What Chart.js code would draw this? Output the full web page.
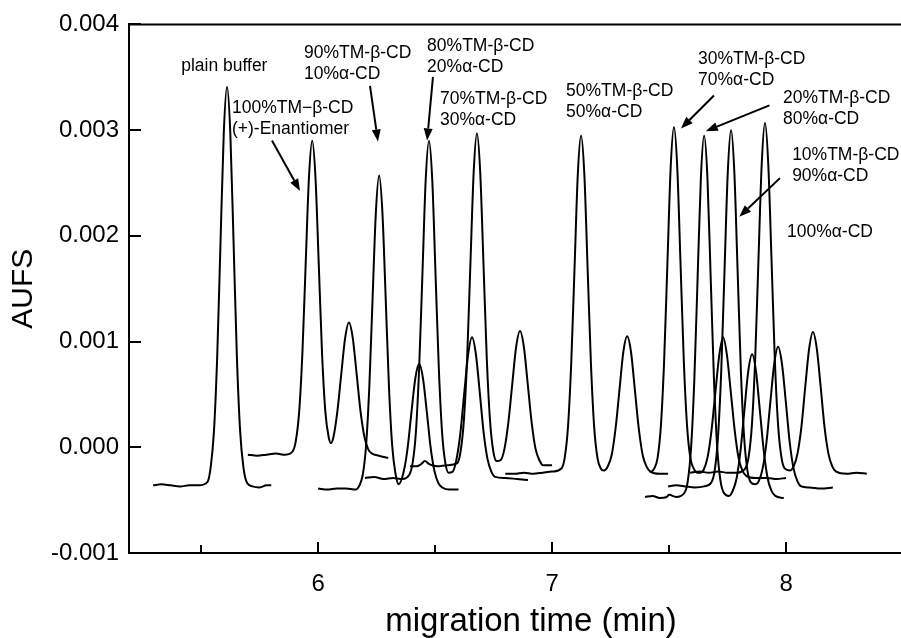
<!DOCTYPE html>
<html><head><meta charset="utf-8">
<script src="https://cdn.jsdelivr.net/npm/chart.js@4.4.0/dist/chart.umd.min.js"></script>
<style>
html,body{margin:0;padding:0;background:#fff;overflow:hidden;}
#wrap{position:relative;width:933px;height:638px;}
</style></head><body>
<div id="wrap"><canvas id="c"></canvas></div>
<script>
// ---- data: migration time (min), AUFS ----
const plainBuffer = [[5.295,-0.00036],[5.33,-0.00035],[5.37,-0.00036],[5.41,-0.00037],[5.45,-0.00036],[5.49,-0.00036],[5.527,-0.00033],[5.541,-0.00019],[5.555,0.00015],[5.569,0.00086],[5.583,0.00193],[5.597,0.00297],[5.611,0.00341],[5.625,0.00297],[5.639,0.00193],[5.653,0.00086],[5.667,0.00015],[5.681,-0.00019],[5.695,-0.00033],[5.72,-0.00037],[5.75,-0.00038],[5.78,-0.00036],[5.80,-0.00036]];
const tm100 = [[5.70,-0.00007],[5.74,-0.00008],[5.78,-0.00007],[5.82,-0.00006],[5.86,-0.00007],[5.891,-0.00004],[5.905,0.00006],[5.919,0.00033],[5.933,0.00089],[5.947,0.00173],[5.961,0.00255],[5.975,0.0029],[5.989,0.00255],[6.003,0.00173],[6.017,0.00089],[6.031,0.00034],[6.045,0.0001],[6.055,0.00004],[6.066,0.0001],[6.0825,0.00034],[6.099,0.00069],[6.1155,0.00103],[6.132,0.00118],[6.1485,0.00103],[6.165,0.00069],[6.1815,0.00034],[6.198,0.0001],[6.2145,-0.00002],[6.231,-0.00006],[6.26,-0.00008],[6.30,-0.0001]];
const tm90 = [[6.00,-0.00039],[6.04,-0.0004],[6.08,-0.00039],[6.12,-0.00039],[6.16,-0.0004],[6.177,-0.00036],[6.191,-0.00026],[6.205,0.00001],[6.219,0.00057],[6.233,0.00141],[6.247,0.00222],[6.261,0.00257],[6.275,0.00222],[6.289,0.00141],[6.303,0.00057],[6.317,0.00001],[6.331,-0.00025],[6.345,-0.00035],[6.366,-0.00023],[6.3825,-0.00001],[6.399,0.00033],[6.4155,0.00065],[6.432,0.00079],[6.4485,0.00065],[6.465,0.00033],[6.4815,-0.00001],[6.498,-0.00023],[6.5145,-0.00034],[6.531,-0.00038],[6.56,-0.0004],[6.60,-0.0004]];
const tm80 = [[6.20,-0.00029],[6.24,-0.00028],[6.28,-0.0003],[6.32,-0.00029],[6.36,-0.0003],[6.39,-0.00026],[6.404,-0.00015],[6.418,0.00014],[6.432,0.00075],[6.446,0.00164],[6.46,0.00253],[6.474,0.0029],[6.488,0.00253],[6.502,0.00164],[6.516,0.00075],[6.53,0.00014],[6.544,-0.00015],[6.558,-0.00024],[6.5755,-0.00023],[6.592,-0.00011],[6.6085,0.00014],[6.625,0.00052],[6.6415,0.00088],[6.658,0.00104],[6.6745,0.00088],[6.691,0.00052],[6.7075,0.00014],[6.724,-0.00011],[6.7405,-0.00023],[6.757,-0.00028],[6.80,-0.00029],[6.85,-0.0003],[6.897,-0.00031]];
const tm70 = [[6.393,-0.00018],[6.42,-0.00018],[6.44,-0.00016],[6.457,-0.00013],[6.475,-0.00016],[6.51,-0.00018],[6.55,-0.00017],[6.595,-0.00015],[6.609,-0.00004],[6.623,0.00025],[6.637,0.00084],[6.651,0.00173],[6.665,0.0026],[6.679,0.00297],[6.693,0.0026],[6.707,0.00173],[6.721,0.00084],[6.735,0.00025],[6.749,-0.00004],[6.763,-0.00013],[6.7805,-0.00012],[6.797,-0.00001],[6.8135,0.00024],[6.83,0.0006],[6.8465,0.00095],[6.863,0.0011],[6.8795,0.00095],[6.896,0.0006],[6.9125,0.00024],[6.929,-0.00001],[6.9455,-0.00012],[6.962,-0.00017],[7.0,-0.00017]];
const tm50 = [[6.80,-0.00025],[6.84,-0.00025],[6.88,-0.00024],[6.92,-0.00025],[6.96,-0.00024],[7.00,-0.00023],[7.04,-0.0002],[7.054,-0.0001],[7.068,0.00019],[7.082,0.0008],[7.096,0.00169],[7.11,0.00258],[7.124,0.00295],[7.138,0.00258],[7.152,0.00169],[7.166,0.0008],[7.18,0.00019],[7.194,-0.0001],[7.208,-0.0002],[7.222,-0.00022],[7.2385,-0.00018],[7.255,-0.00007],[7.2715,0.00018],[7.288,0.00054],[7.3045,0.0009],[7.321,0.00105],[7.3375,0.0009],[7.354,0.00054],[7.3705,0.00018],[7.387,-0.00007],[7.4035,-0.00018],[7.42,-0.00023],[7.46,-0.00025],[7.496,-0.00025]];
const tm30 = [[7.42,-0.00024],[7.437,-0.0002],[7.451,-0.0001],[7.465,0.0002],[7.479,0.00082],[7.493,0.00174],[7.507,0.00265],[7.521,0.00303],[7.535,0.00265],[7.549,0.00174],[7.563,0.00082],[7.577,0.0002],[7.591,-0.0001],[7.605,-0.0002],[7.62,-0.00024],[7.632,-0.00024],[7.6485,-0.00021],[7.665,-0.00009],[7.6815,0.00016],[7.698,0.00052],[7.7145,0.00087],[7.731,0.00104],[7.7475,0.00087],[7.764,0.00052],[7.7805,0.00016],[7.797,-0.0001],[7.8135,-0.00022],[7.83,-0.00027],[7.87,-0.00029],[7.92,-0.00029],[7.96,-0.0003],[8.0,-0.00029]];
const tm20 = [[7.397,-0.00047],[7.43,-0.00046],[7.46,-0.00048],[7.49,-0.00047],[7.50,-0.00045],[7.53,-0.00047],[7.566,-0.00043],[7.58,-0.00032],[7.594,-0.00001],[7.608,0.00064],[7.622,0.0016],[7.636,0.00255],[7.65,0.00295],[7.664,0.00255],[7.678,0.0016],[7.692,0.00064],[7.706,-0.00001],[7.72,-0.00032],[7.734,-0.00043],[7.756,-0.00046],[7.7725,-0.00041],[7.789,-0.00029],[7.8055,-0.00003],[7.822,0.00035],[7.8385,0.00072],[7.855,0.00088],[7.8715,0.00072],[7.888,0.00035],[7.9045,-0.00003],[7.921,-0.00029],[7.9375,-0.00041],[7.954,-0.00046],[7.99,-0.00048]];
const tm10 = [[7.496,-0.00037],[7.53,-0.00036],[7.57,-0.00037],[7.61,-0.00038],[7.65,-0.00037],[7.681,-0.00033],[7.695,-0.00022],[7.709,0.00009],[7.723,0.00072],[7.737,0.00167],[7.751,0.0026],[7.765,0.003],[7.779,0.0026],[7.793,0.00167],[7.807,0.00072],[7.821,0.00009],[7.835,-0.00022],[7.849,-0.00033],[7.867,-0.00035],[7.8835,-0.00032],[7.9,-0.0002],[7.9165,0.00005],[7.933,0.00043],[7.9495,0.00079],[7.966,0.00095],[7.9825,0.00079],[7.999,0.00043],[8.0155,0.00005],[8.032,-0.0002],[8.0485,-0.00032],[8.065,-0.00037],[8.10,-0.00038],[8.15,-0.00039],[8.20,-0.00038]];
const alpha100 = [[7.59,-0.00024],[7.63,-0.00023],[7.67,-0.00024],[7.71,-0.00023],[7.75,-0.00024],[7.79,-0.00024],[7.826,-0.0002],[7.84,-0.00009],[7.854,0.00021],[7.868,0.00083],[7.882,0.00177],[7.896,0.00268],[7.91,0.00307],[7.924,0.00268],[7.938,0.00177],[7.952,0.00083],[7.966,0.00021],[7.98,-0.00009],[7.994,-0.0002],[8.016,-0.00022],[8.0325,-0.00018],[8.049,-0.00006],[8.0655,0.00019],[8.082,0.00057],[8.0985,0.00093],[8.115,0.00109],[8.1315,0.00093],[8.148,0.00057],[8.1645,0.00019],[8.181,-0.00006],[8.1975,-0.00018],[8.214,-0.00023],[8.26,-0.00025],[8.30,-0.00024],[8.345,-0.00025]];

const traceNames = ['plain buffer','100%TM-β-CD','90%TM-β-CD','80%TM-β-CD','70%TM-β-CD','50%TM-β-CD','30%TM-β-CD','20%TM-β-CD','10%TM-β-CD','100%α-CD'];
const traces = [plainBuffer, tm100, tm90, tm80, tm70, tm50, tm30, tm20, tm10, alpha100];

const yTickValues = [-0.001, 0, 0.001, 0.002, 0.003, 0.004];
const xTickLabels = [6, 7, 8];

// annotation text (anchor = left edge / middle of first line, data units)
const notes = [
  {lines:['plain buffer'], x:5.415, y:0.003606},
  {lines:['100%TM\u2212\u03b2-CD','(+)-Enantiomer'], x:5.632, y:0.003203},
  {lines:['90%TM-\u03b2-CD','10%\u03b1-CD'], x:5.940, y:0.003728},
  {lines:['80%TM-\u03b2-CD','20%\u03b1-CD'], x:6.466, y:0.003794},
  {lines:['70%TM-\u03b2-CD','30%\u03b1-CD'], x:6.521, y:0.003296},
  {lines:['50%TM-\u03b2-CD','50%\u03b1-CD'], x:7.060, y:0.003371},
  {lines:['30%TM-\u03b2-CD','70%\u03b1-CD'], x:7.624, y:0.003672},
  {lines:['20%TM-\u03b2-CD','80%\u03b1-CD'], x:7.987, y:0.003306},
  {lines:['10%TM-\u03b2-CD','90%\u03b1-CD'], x:8.026, y:0.002762},
  {lines:['100%\u03b1-CD'], x:8.004, y:0.002039}
];
const arrows = [
  {from:[5.803,0.002902], to:[5.923,0.002424]},
  {from:[6.222,0.003418], to:[6.256,0.002893]},
  {from:[6.491,0.003503], to:[6.466,0.002902]},
  {from:[7.692,0.003327], to:[7.551,0.003015]},
  {from:[7.929,0.003234], to:[7.657,0.002990]},
  {from:[7.974,0.002546], to:[7.800,0.002180]}
];

const FONT = "'Liberation Sans', Arial, Helvetica, sans-serif";
Chart.defaults.font.family = FONT;
Chart.defaults.color = '#000';

const isInt = v => Math.abs(v - Math.round(v)) < 1e-6;

const overlay = {
  id: 'overlay',
  afterDraw(chart) {
    const ctx = chart.ctx, a = chart.chartArea, xs = chart.scales.x, ys = chart.scales.y;
    ctx.save();
    ctx.strokeStyle = '#000'; ctx.fillStyle = '#000'; ctx.lineWidth = 2;
    ctx.beginPath(); ctx.moveTo(a.left - 1, a.top); ctx.lineTo(a.right, a.top); ctx.stroke();
    xs.ticks.forEach(t => {
      const px = Math.round(xs.getPixelForValue(t.value));
      const len = isInt(t.value) ? 11 : 8;
      ctx.beginPath(); ctx.moveTo(px, a.bottom); ctx.lineTo(px, a.bottom - len); ctx.stroke();
    });
    ys.ticks.forEach(t => {
      const py = Math.round(ys.getPixelForValue(t.value));
      ctx.beginPath(); ctx.moveTo(a.left, py); ctx.lineTo(a.left + 12, py); ctx.stroke();
    });
    ctx.font = '17.5px ' + FONT; ctx.textBaseline = 'middle'; ctx.textAlign = 'left';
    notes.forEach(n => {
      const px = xs.getPixelForValue(n.x), py = ys.getPixelForValue(n.y);
      n.lines.forEach((s, i) => ctx.fillText(s, px, py + i * 21));
    });
    ctx.lineWidth = 2;
    arrows.forEach(ar => {
      const x1 = xs.getPixelForValue(ar.from[0]), y1 = ys.getPixelForValue(ar.from[1]);
      const x2 = xs.getPixelForValue(ar.to[0]), y2 = ys.getPixelForValue(ar.to[1]);
      const ang = Math.atan2(y2 - y1, x2 - x1), L = 12, W = 4.5;
      const bx = x2 - L * Math.cos(ang), by = y2 - L * Math.sin(ang);
      ctx.beginPath(); ctx.moveTo(x1, y1); ctx.lineTo(bx, by); ctx.stroke();
      ctx.beginPath(); ctx.moveTo(x2, y2);
      ctx.lineTo(bx - W * Math.sin(ang), by + W * Math.cos(ang));
      ctx.lineTo(bx + W * Math.sin(ang), by - W * Math.cos(ang));
      ctx.closePath(); ctx.fill();
    });
    ctx.restore();
  }
};

new Chart(document.getElementById('c'), {
  type: 'line',
  data: {
    datasets: traces.map((t, i) => ({
      label: traceNames[i],
      data: t.map(p => ({x: p[0], y: p[1]})),
      borderColor: '#000', borderWidth: 2, pointRadius: 0, fill: false,
      cubicInterpolationMode: 'monotone'
    }))
  },
  options: {
    responsive: true, maintainAspectRatio: false, animation: false, devicePixelRatio: 1,
    layout: {padding: {left: 0, right: 0, top: 20, bottom: 0}},
    plugins: {legend: {display: false}, tooltip: {enabled: false}},
    scales: {
      x: {
        type: 'linear', min: 5.192, max: 8.628,
        afterFit: s => { s.height = 85; },
        ticks: {stepSize: 0.5, includeBounds: false, autoSkip: false, maxRotation: 0,
                callback: v => (isInt(v) && xTickLabels.includes(Math.round(v))) ? String(Math.round(v)) : '',
                font: {size: 24}, padding: 17, color: '#000'},
        grid: {display: false, drawTicks: false},
        border: {display: true, color: '#000', width: 2},
        title: {display: true, text: 'migration time (min)', font: {size: 33, lineHeight: 1.0}, padding: 0, color: '#000'}
      },
      y: {
        type: 'linear', min: -0.001, max: 0.004,
        afterFit: s => { s.width = 129; },
        afterBuildTicks: s => { s.ticks = yTickValues.map(v => ({value: v})); },
        ticks: {callback: v => v.toFixed(3), font: {size: 24}, padding: 10, color: '#000'},
        grid: {display: false, drawTicks: false},
        border: {display: true, color: '#000', width: 2},
        title: {display: true, text: 'AUFS', font: {size: 30}, padding: {top: 6, bottom: 0}, color: '#000'}
      }
    }
  },
  plugins: [overlay]
});
</script>
</body></html>
